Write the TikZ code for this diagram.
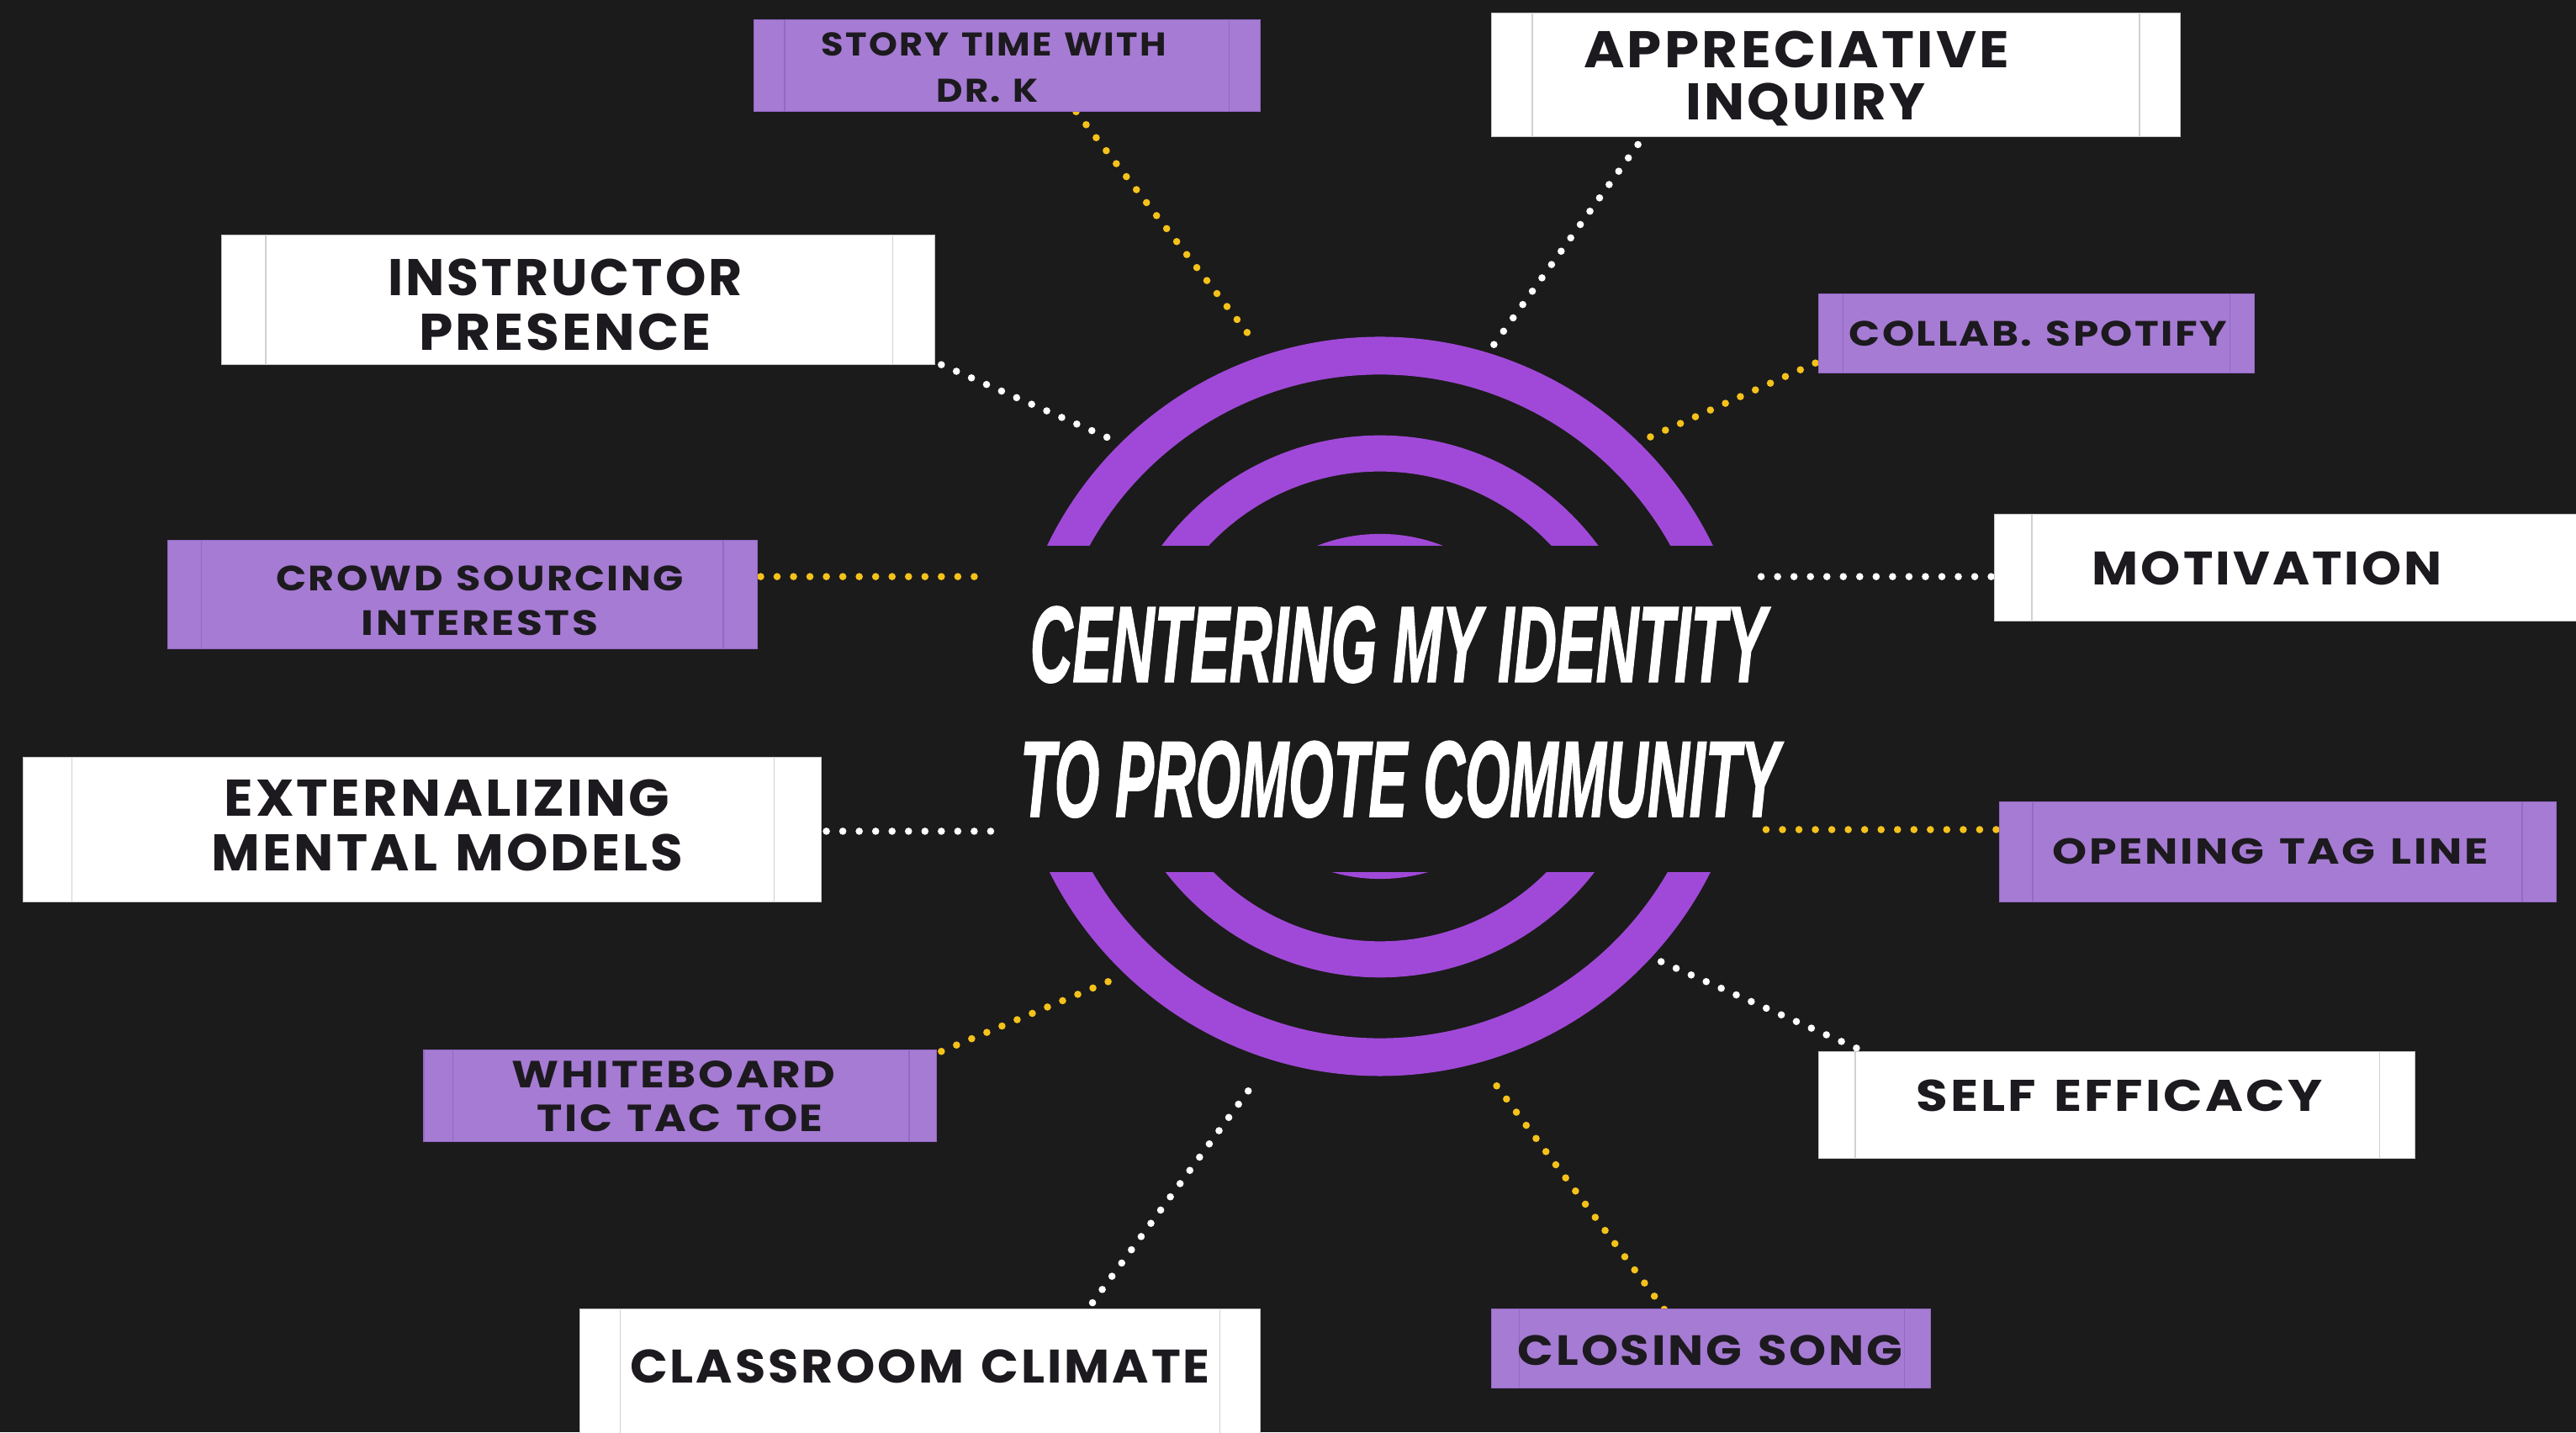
\documentclass[tikz,border=0pt]{standalone}
\usepackage{fontspec}
\usepackage{graphicx}
\newfontfamily\labfont[LetterSpace=5,WordSpace=1.3]{Poppins}
\newfontfamily\titfont[FakeBold=1.6]{Liberation Sans}
\definecolor{bgc}{HTML}{1B1B1B}
\definecolor{ringc}{HTML}{A049D8}
\definecolor{boxp}{HTML}{A67BD3}
\definecolor{boxpl}{HTML}{9468C4}
\definecolor{dotY}{HTML}{F5C21B}
\definecolor{ink}{HTML}{1C1A1E}
\newcommand{\fw}[2]{\resizebox{#1pt}{\height}{#2}}
\tikzset{
 wbox/.style={fill=white, draw=black!22, line width=0.6pt, inner sep=0pt},
 pbox/.style={fill=boxp, draw=boxpl, line width=0.6pt, inner sep=0pt},
 wline/.style={draw=black!18, line width=0.7pt},
 pline/.style={draw=boxpl, line width=0.7pt},
 lab/.style={anchor=base, inner sep=0pt, text=ink, font=\labfont\bfseries\fontsize{#1}{#1}\selectfont},
 ydots/.style={draw=dotY, line width=4.4pt, line cap=round, dash pattern=on 0pt off 10pt},
 wdots/.style={draw=white, line width=4.4pt, line cap=round, dash pattern=on 0pt off 10pt},
 tit/.style={anchor=base, inner sep=0pt, text=white, font=\titfont\bfseries\itshape\fontsize{65.6}{66}\selectfont},
}
\begin{document}
\begin{tikzpicture}[x=1pt,y=-1pt]
\useasboundingbox (0,0) rectangle (1568,871.8);
\clip (0,0) rectangle (1568,871.8);
\fill[bgc] (0,0) rectangle (1568,871.8);

% connector end points
\coordinate (c1a) at (655,68);   \coordinate (c1b) at (765,210);
\coordinate (c2a) at (997,88);   \coordinate (c2b) at (907,213);
\coordinate (c3a) at (573,222);  \coordinate (c3b) at (678,268);
\coordinate (c4a) at (1105,221); \coordinate (c4b) at (1000,268);
\coordinate (c5a) at (463,351);  \coordinate (c5b) at (603,351);
\coordinate (c6a) at (1212,351); \coordinate (c6b) at (1070,351);
\coordinate (c7a) at (503,506);  \coordinate (c7b) at (605,506);
\coordinate (c8a) at (1215,505); \coordinate (c8b) at (1070,505);
\coordinate (c9a) at (573,640);  \coordinate (c9b) at (683,594);
\coordinate (c10a) at (1130,638);\coordinate (c10b) at (1008,584);
\coordinate (c11a) at (665,793); \coordinate (c11b) at (765,657);
\coordinate (c12a) at (1013,797);\coordinate (c12b) at (905,653);

\draw[ydots] (c1a) -- (c1b);
\draw[wdots] (c2a) -- (c2b);
\draw[wdots] (c3a) -- (c3b);
\draw[ydots] (c4a) -- (c4b);
\draw[ydots] (c5a) -- (c5b);
\draw[wdots] (c6a) -- (c6b);
\draw[wdots] (c7a) -- (c7b);
\draw[ydots] (c8a) -- (c8b);
\draw[ydots] (c9a) -- (c9b);
\draw[wdots] (c10a) -- (c10b);
\draw[wdots] (c11a) -- (c11b);
\draw[ydots] (c12a) -- (c12b);

% rings
\fill[ringc, even odd rule] (840,430) circle (225pt) circle (202pt);
\fill[ringc, even odd rule] (840,430) circle (165pt) circle (143pt);
\fill[ringc, even odd rule] (840,430) circle (105pt) circle (83pt);
\fill[bgc] (612,332) rectangle (1068,531);

% title
\node[tit] (title1) at (851,415) {\fw{448}{CENTERING MY IDENTITY}};
\node[tit] (title2) at (852,497) {\fw{462}{TO PROMOTE COMMUNITY}};

% boxes
\node[pbox, minimum width=308pt, minimum height=56pt] (b1) at (613,40) {};
\node[wbox, minimum width=419pt, minimum height=75pt] (b2) at (1117.5,45.5) {};
\node[wbox, minimum width=434pt, minimum height=79pt] (b3) at (352,182.5) {};
\node[pbox, minimum width=265pt, minimum height=48pt] (b4) at (1239.5,203) {};
\node[pbox, minimum width=359pt, minimum height=66pt] (b5) at (281.5,362) {};
\node[wbox, minimum width=376pt, minimum height=65pt] (b6) at (1402,345.5) {};
\node[wbox, minimum width=486pt, minimum height=88pt] (b7) at (257,505) {};
\node[pbox, minimum width=339pt, minimum height=61pt] (b8) at (1386.5,518.5) {};
\node[pbox, minimum width=312pt, minimum height=56pt] (b9) at (414,667) {};
\node[wbox, minimum width=363pt, minimum height=65pt] (b10) at (1288.5,672.5) {};
\node[wbox, minimum width=414.5pt, minimum height=103pt] (b11) at (560,848.5) {};
\node[pbox, minimum width=267pt, minimum height=48pt] (b12) at (1041.5,821) {};

% inner vertical lines
\draw[pline] ([xshift=19pt]b1.north west) -- ([xshift=19pt]b1.south west);
\draw[pline] ([xshift=-19pt]b1.north east) -- ([xshift=-19pt]b1.south east);
\draw[wline] ([xshift=25pt]b2.north west) -- ([xshift=25pt]b2.south west);
\draw[wline] ([xshift=-25pt]b2.north east) -- ([xshift=-25pt]b2.south east);
\draw[wline] ([xshift=27pt]b3.north west) -- ([xshift=27pt]b3.south west);
\draw[wline] ([xshift=-26pt]b3.north east) -- ([xshift=-26pt]b3.south east);
\draw[pline] ([xshift=15pt]b4.north west) -- ([xshift=15pt]b4.south west);
\draw[pline] ([xshift=-15pt]b4.north east) -- ([xshift=-15pt]b4.south east);
\draw[pline] ([xshift=21pt]b5.north west) -- ([xshift=21pt]b5.south west);
\draw[pline] ([xshift=-21pt]b5.north east) -- ([xshift=-21pt]b5.south east);
\draw[wline] ([xshift=23pt]b6.north west) -- ([xshift=23pt]b6.south west);
\draw[wline] ([xshift=30pt]b7.north west) -- ([xshift=30pt]b7.south west);
\draw[wline] ([xshift=-29pt]b7.north east) -- ([xshift=-29pt]b7.south east);
\draw[pline] ([xshift=20.6pt]b8.north west) -- ([xshift=20.6pt]b8.south west);
\draw[pline] ([xshift=-21pt]b8.north east) -- ([xshift=-21pt]b8.south east);
\draw[pline] ([xshift=18pt]b9.north west) -- ([xshift=18pt]b9.south west);
\draw[pline] ([xshift=-17pt]b9.north east) -- ([xshift=-17pt]b9.south east);
\draw[wline] ([xshift=22.5pt]b10.north west) -- ([xshift=22.5pt]b10.south west);
\draw[wline] ([xshift=-22pt]b10.north east) -- ([xshift=-22pt]b10.south east);
\draw[wline] ([xshift=25pt]b11.north west) -- ([xshift=25pt]b11.south west);
\draw[wline] ([xshift=-25pt]b11.north east) -- ([xshift=-25pt]b11.south east);
\draw[pline] ([xshift=17pt]b12.north west) -- ([xshift=17pt]b12.south west);
\draw[pline] ([xshift=-16pt]b12.north east) -- ([xshift=-16pt]b12.south east);

% labels
\node[lab=20] (t1a) at (605,34) {\fw{210}{STORY TIME WITH}};
\node[lab=20] (t1b) at (601,62) {\fw{62}{DR. K}};
\node[lab=31.4] (t2a) at (1093.5,41) {\fw{259}{APPRECIATIVE}};
\node[lab=31.4] (t2b) at (1099,73) {\fw{146}{INQUIRY}};
\node[lab=31.4] (t3a) at (344,180) {\fw{216}{INSTRUCTOR}};
\node[lab=31.4] (t3b) at (344,213) {\fw{178}{PRESENCE}};
\node[lab=21.4] (t4) at (1240.5,210.5) {\fw{230}{COLLAB. SPOTIFY}};
\node[lab=21.4] (t5a) at (292,359.5) {\fw{248}{CROWD SOURCING}};
\node[lab=21.4] (t5b) at (292,386.5) {\fw{144}{INTERESTS}};
\node[lab=28.6] (t6) at (1380,356) {\fw{213}{MOTIVATION}};
\node[lab=31.4] (t7a) at (272,497) {\fw{271}{EXTERNALIZING}};
\node[lab=31.4] (t7b) at (272.5,530) {\fw{287}{MENTAL MODELS}};
\node[lab=22] (t8) at (1382,526) {\fw{265}{OPENING TAG LINE}};
\node[lab=23] (t9a) at (410,662) {\fw{197}{WHITEBOARD}};
\node[lab=23] (t9b) at (414,689) {\fw{174}{TIC TAC TOE}};
\node[lab=27] (t10) at (1290,676.5) {\fw{247}{SELF EFFICACY}};
\node[lab=28.6] (t11) at (560,842) {\fw{353}{CLASSROOM CLIMATE}};
\node[lab=25.7] (t12) at (1041,831) {\fw{234}{CLOSING SONG}};
\end{tikzpicture}
\end{document}
